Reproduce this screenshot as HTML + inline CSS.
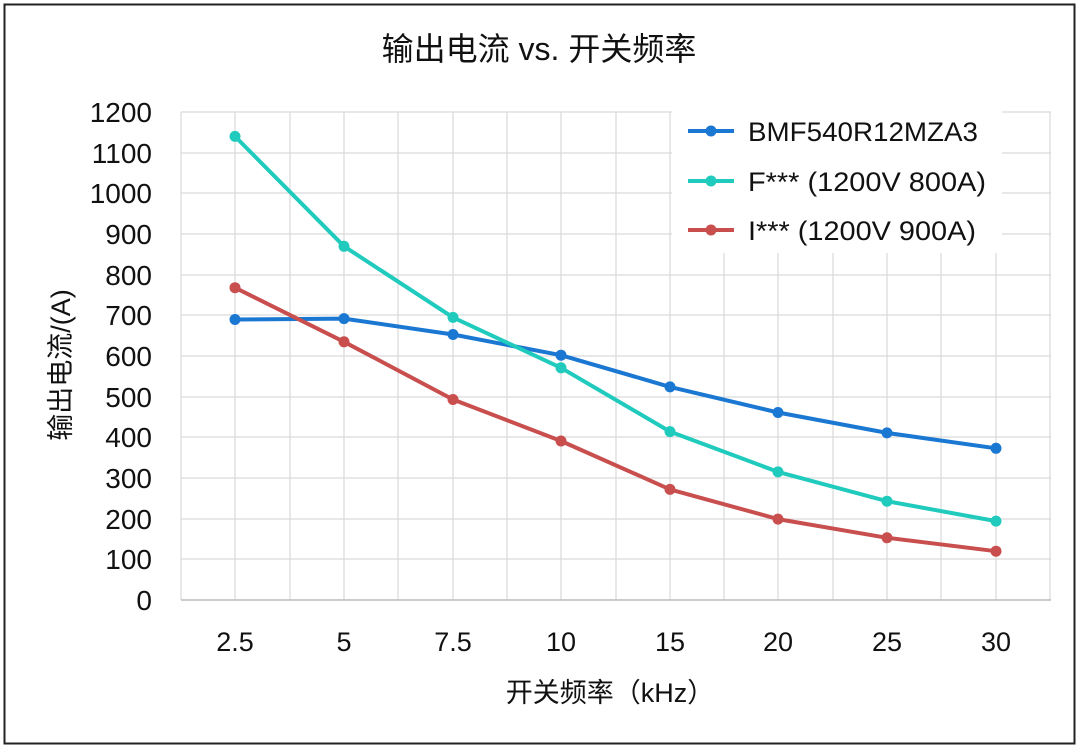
<!DOCTYPE html>
<html><head><meta charset="utf-8"><style>
body{margin:0;background:#fff;}
svg{display:block;font-family:"Liberation Sans","Noto Sans CJK SC",sans-serif;}
</style></head><body>
<svg width="1080" height="749" viewBox="0 0 1080 749">
<rect x="0" y="0" width="1080" height="749" fill="#fff"/>
<rect x="4.5" y="4.5" width="1070" height="739" fill="none" stroke="#222" stroke-width="2"/>
<text x="539" y="60" text-anchor="middle" font-size="32" fill="#111">输出电流 vs. 开关频率</text>
<g stroke="#d9d9d9" stroke-width="1.2">
<line x1="181" y1="112" x2="1051" y2="112"/><line x1="181" y1="153" x2="1051" y2="153"/>
<line x1="181" y1="193" x2="1051" y2="193"/><line x1="181" y1="234" x2="1051" y2="234"/>
<line x1="181" y1="275" x2="1051" y2="275"/><line x1="181" y1="315" x2="1051" y2="315"/>
<line x1="181" y1="356" x2="1051" y2="356"/><line x1="181" y1="397" x2="1051" y2="397"/>
<line x1="181" y1="437" x2="1051" y2="437"/><line x1="181" y1="478" x2="1051" y2="478"/>
<line x1="181" y1="519" x2="1051" y2="519"/><line x1="181" y1="559" x2="1051" y2="559"/>
<line x1="181" y1="112" x2="181" y2="600"/><line x1="235" y1="112" x2="235" y2="600"/>
<line x1="290" y1="112" x2="290" y2="600"/><line x1="344" y1="112" x2="344" y2="600"/>
<line x1="398" y1="112" x2="398" y2="600"/><line x1="453" y1="112" x2="453" y2="600"/>
<line x1="507" y1="112" x2="507" y2="600"/><line x1="561" y1="112" x2="561" y2="600"/>
<line x1="616" y1="112" x2="616" y2="600"/><line x1="670" y1="112" x2="670" y2="600"/>
<line x1="724" y1="112" x2="724" y2="600"/><line x1="778" y1="112" x2="778" y2="600"/>
<line x1="833" y1="112" x2="833" y2="600"/><line x1="887" y1="112" x2="887" y2="600"/>
<line x1="941" y1="112" x2="941" y2="600"/><line x1="996" y1="112" x2="996" y2="600"/>
<line x1="1050" y1="112" x2="1050" y2="600"/>
</g>
<line x1="181" y1="600" x2="1051" y2="600" stroke="#bbb" stroke-width="1.5"/>
<rect x="672" y="108" width="330" height="145" fill="#fff"/>
<g font-size="28" fill="#111" text-anchor="end">
<text x="152" y="122">1200</text><text x="152" y="163">1100</text><text x="152" y="203">1000</text>
<text x="152" y="244">900</text><text x="152" y="285">800</text><text x="152" y="325">700</text>
<text x="152" y="366">600</text><text x="152" y="407">500</text><text x="152" y="447">400</text>
<text x="152" y="488">300</text><text x="152" y="529">200</text><text x="152" y="569">100</text>
<text x="152" y="610">0</text>
</g>
<g font-size="27" fill="#111" text-anchor="middle">
<text x="235" y="651">2.5</text><text x="344" y="651">5</text><text x="453" y="651">7.5</text>
<text x="561" y="651">10</text><text x="670" y="651">15</text><text x="778" y="651">20</text>
<text x="887" y="651">25</text><text x="996" y="651">30</text>
</g>
<text x="610" y="702" text-anchor="middle" font-size="27" fill="#111">开关频率（kHz）</text>
<text transform="translate(70,365) rotate(-90)" text-anchor="middle" font-size="27" fill="#111">输出电流/(A)</text>
<g fill="none" stroke-width="4" stroke-linejoin="round">
<polyline stroke="#1a77d2" points="235,319.5 344,318.6 453,334.5 561,355.2 670,386.9 778,412.5 887,432.9 996,448.3"/>
<polyline stroke="#20cbbd" points="235,136.4 344,246.3 453,317.4 561,367.8 670,431.6 778,471.9 887,501.2 996,521.1"/>
<polyline stroke="#c94f4f" points="235,287.7 344,341.8 453,399.5 561,441 670,489.4 778,519.1 887,537.8 996,551.2"/>
</g>
<g fill="#1a77d2"><circle cx="235" cy="319.5" r="5.5"/><circle cx="344" cy="318.6" r="5.5"/><circle cx="453" cy="334.5" r="5.5"/><circle cx="561" cy="355.2" r="5.5"/><circle cx="670" cy="386.9" r="5.5"/><circle cx="778" cy="412.5" r="5.5"/><circle cx="887" cy="432.9" r="5.5"/><circle cx="996" cy="448.3" r="5.5"/></g>
<g fill="#20cbbd"><circle cx="235" cy="136.4" r="5.5"/><circle cx="344" cy="246.3" r="5.5"/><circle cx="453" cy="317.4" r="5.5"/><circle cx="561" cy="367.8" r="5.5"/><circle cx="670" cy="431.6" r="5.5"/><circle cx="778" cy="471.9" r="5.5"/><circle cx="887" cy="501.2" r="5.5"/><circle cx="996" cy="521.1" r="5.5"/></g>
<g fill="#c94f4f"><circle cx="235" cy="287.7" r="5.5"/><circle cx="344" cy="341.8" r="5.5"/><circle cx="453" cy="399.5" r="5.5"/><circle cx="561" cy="441" r="5.5"/><circle cx="670" cy="489.4" r="5.5"/><circle cx="778" cy="519.1" r="5.5"/><circle cx="887" cy="537.8" r="5.5"/><circle cx="996" cy="551.2" r="5.5"/></g>
<g stroke-width="4">
<line x1="688" y1="131" x2="734" y2="131" stroke="#1a77d2"/><circle cx="711" cy="131" r="5.5" fill="#1a77d2"/>
<line x1="688" y1="181" x2="734" y2="181" stroke="#20cbbd"/><circle cx="711" cy="181" r="5.5" fill="#20cbbd"/>
<line x1="688" y1="230" x2="734" y2="230" stroke="#c94f4f"/><circle cx="711" cy="230" r="5.5" fill="#c94f4f"/>
</g>
<g font-size="27" fill="#111">
<text x="748" y="141" textLength="230" lengthAdjust="spacingAndGlyphs">BMF540R12MZA3</text>
<text x="748" y="191" textLength="238" lengthAdjust="spacingAndGlyphs">F*** (1200V 800A)</text>
<text x="748" y="240" textLength="228" lengthAdjust="spacingAndGlyphs">I*** (1200V 900A)</text>
</g>
</svg>
</body></html>
